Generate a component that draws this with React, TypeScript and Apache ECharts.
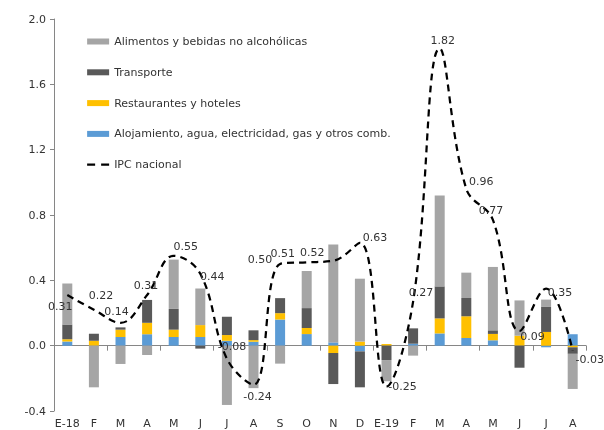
import React, { useEffect, useRef } from "react";
import * as echarts from "echarts";

const categories = ["E-18", "F", "M", "A", "M", "J", "J", "A", "S", "O", "N", "D", "E-19", "F", "M", "A", "M", "J", "J", "A"];

const alimentos = [0.25, -0.255, -0.112, -0.057, 0.302, 0.224, -0.363, -0.26, -0.11, 0.227, 0.6, 0.385, -0.13, -0.061, 0.557, 0.155, 0.388, 0.216, 0.045, -0.215];
const transporte = [0.09, 0.043, 0.014, 0.14, 0.127, -0.018, 0.112, 0.06, 0.092, 0.122, -0.19, -0.22, -0.088, 0.094, 0.196, 0.112, 0.022, -0.135, 0.153, -0.04];
const restaurantes = [0.015, 0.03, 0.045, 0.07, 0.045, 0.073, 0.035, 0.01, 0.039, 0.037, -0.045, 0.025, 0.01, 0, 0.092, 0.133, 0.039, 0.061, 0.084, -0.01];
const alojamiento = [0.025, 0, 0.053, 0.07, 0.053, 0.053, 0.03, 0.024, 0.16, 0.071, 0.02, -0.035, 0, 0.012, 0.075, 0.047, 0.033, 0, -0.01, 0.07];
const ipc = [0.31, 0.22, 0.14, 0.31, 0.55, 0.44, -0.08, -0.24, 0.5, 0.51, 0.52, 0.63, -0.25, 0.27, 1.82, 0.96, 0.77, 0.09, 0.35, -0.03];

const yTicks = { min: -0.4, max: 2.0, interval: 0.4 };

// label placement (style only)
const ipcLabelOffsets: number[][] = [
  [-7, 11], [7, -14], [-4, -11], [-1, -10], [12, -9], [12, 3], [5, -12], [4, 12],
  [-20, -5], [-24, -9], [-21, -8], [15, -5], [16, 0], [8, -9], [3, -8], [15, -7],
  [-2, -9], [13, 6], [14, 4], [17, 9],
];

const NAMES = {
  ali: "Alimentos y bebidas no alcohólicas",
  tra: "Transporte",
  res: "Restaurantes y hoteles",
  alo: "Alojamiento, agua, electricidad, gas y otros comb.",
  ipc: "IPC nacional",
};

const FONT = "DejaVu Sans";

export default function App() {
  const ref = useRef<HTMLDivElement>(null);
  useEffect(() => {
    if (!ref.current) return;
    const chart = echarts.init(ref.current, undefined, { renderer: "svg" });
    const bar = (name: string, data: number[], color: string) => ({
      name,
      type: "bar",
      stack: "total",
      data,
      barWidth: 10,
      xAxisIndex: 0,
      itemStyle: { color },
    });
    chart.setOption({
      animation: false,
      textStyle: { fontFamily: FONT },
      grid: { left: 54, right: 18, top: 19, bottom: 19, containLabel: false },
      legend: {
        orient: "vertical",
        left: 81,
        top: 31,
        itemWidth: 22,
        itemHeight: 6,
        itemGap: 19.8,
        textStyle: { fontSize: 11, color: "#333", fontFamily: FONT },
        data: [
          { name: NAMES.ali, icon: "rect" },
          { name: NAMES.tra, icon: "rect" },
          { name: NAMES.res, icon: "rect" },
          { name: NAMES.alo, icon: "rect" },
          { name: NAMES.ipc, lineStyle: { type: [8, 6], width: 2.25, color: "#000" } },
        ],
      },
      xAxis: [
        {
          type: "category",
          data: categories,
          axisLine: { onZero: true, lineStyle: { color: "#868686", width: 1 } },
          axisTick: { show: true, length: 5, lineStyle: { color: "#868686" } },
          axisLabel: { show: false },
          splitLine: { show: false },
        },
        {
          type: "category",
          position: "bottom",
          data: categories,
          axisLine: { show: false, onZero: false },
          axisTick: { show: false },
          axisLabel: { show: true, fontSize: 11, color: "#333", margin: 7, fontFamily: FONT, interval: 0 },
          splitLine: { show: false },
        },
      ],
      yAxis: {
        type: "value",
        min: yTicks.min,
        max: yTicks.max,
        interval: yTicks.interval,
        axisLine: { show: true, lineStyle: { color: "#868686" } },
        axisTick: { show: true, length: 4, lineStyle: { color: "#868686" } },
        axisLabel: { fontSize: 11, color: "#333", margin: 8, formatter: (v: number) => v.toFixed(1), fontFamily: FONT },
        splitLine: { show: false },
      },
      series: [
        bar(NAMES.alo, alojamiento, "#5B9BD5"),
        bar(NAMES.res, restaurantes, "#FFC000"),
        bar(NAMES.tra, transporte, "#595959"),
        bar(NAMES.ali, alimentos, "#A5A5A5"),
        {
          name: NAMES.ipc,
          type: "line",
          xAxisIndex: 0,
          data: ipc.map((v, i) => ({ value: v, label: { offset: ipcLabelOffsets[i] } })),
          smooth: 0.4,
          smoothConstraint: false,
          symbol: "circle",
          symbolSize: 2,
          showSymbol: true,
          itemStyle: { color: "rgba(0,0,0,0)" },
          lineStyle: { color: "#000", width: 2.25, type: [7, 5] },
          label: {
            show: true,
            position: "inside",
            fontSize: 11,
            color: "#333",
            fontFamily: FONT,
            formatter: (p: any) => Number(p.value).toFixed(2),
          },
          z: 5,
        },
      ],
    });
    return () => chart.dispose();
  }, []);
  return <div ref={ref} style={{ position: "fixed", left: 0, top: 0, width: 604, height: 430 }} />;
}
